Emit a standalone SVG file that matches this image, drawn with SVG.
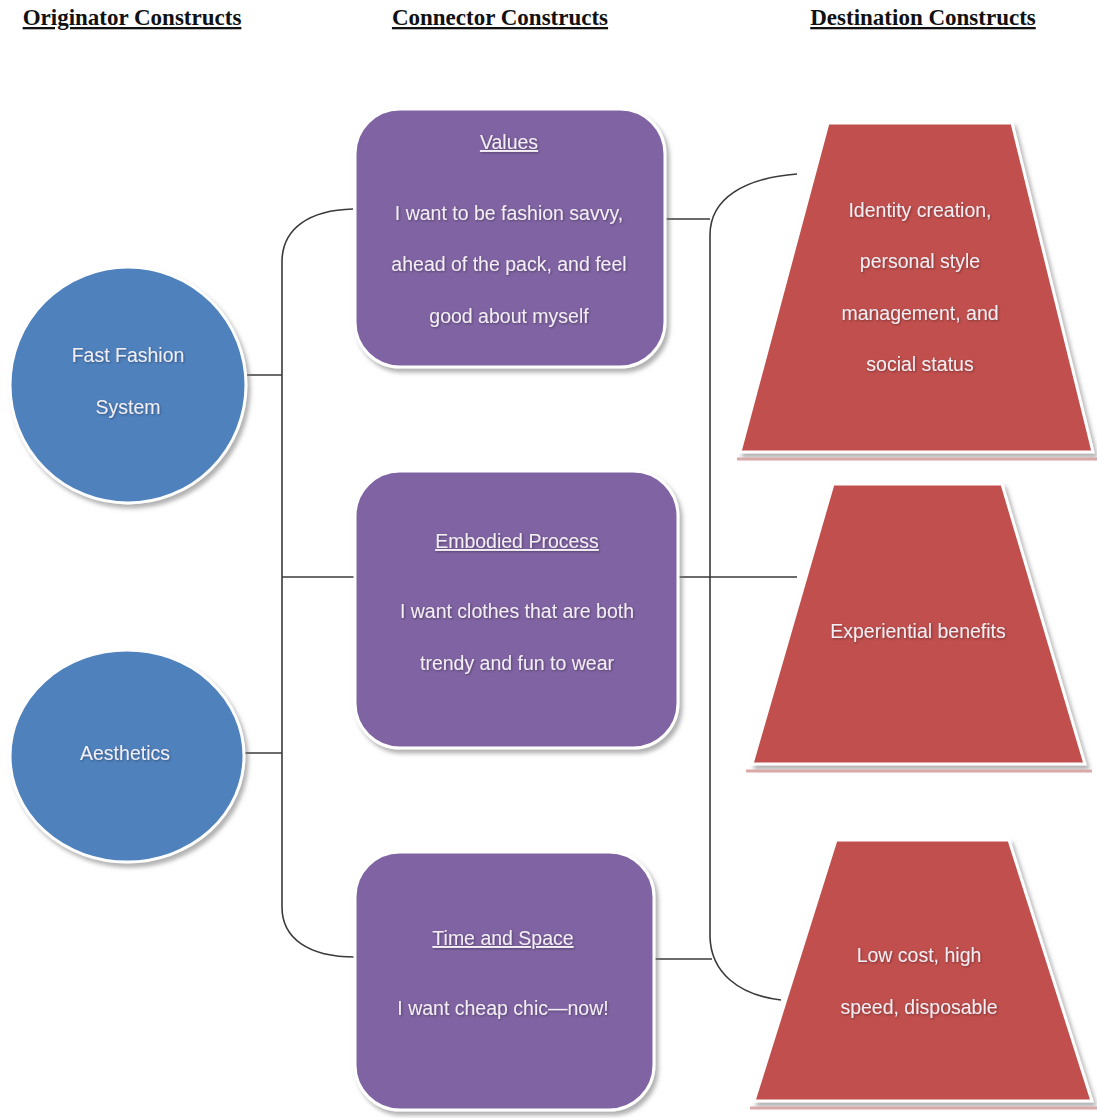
<svg xmlns="http://www.w3.org/2000/svg" width="1097" height="1118" viewBox="0 0 1097 1118">
<defs>
<filter id="sh" x="-10%" y="-10%" width="125%" height="125%">
<feDropShadow dx="3" dy="4" stdDeviation="2" flood-color="#707070" flood-opacity="0.55"/>
</filter>
<filter id="ts" x="-5%" y="-30%" width="110%" height="160%">
<feDropShadow dx="1" dy="1" stdDeviation="0.8" flood-color="#000" flood-opacity="0.35"/>
</filter>
</defs>
<style>
.hdr{font-family:"Liberation Serif","Times New Roman",serif;font-weight:bold;font-size:23px;fill:#111;text-anchor:middle;text-decoration:underline}
.t{font-family:"Liberation Sans",Arial,sans-serif;font-size:19.5px;fill:#f2eef4;text-anchor:middle;filter:url(#ts)}
.u{text-decoration:underline}
.circ{fill:#4f81bd;stroke:#fff;stroke-width:3;filter:url(#sh)}
.box{fill:#8064a2;stroke:#fff;stroke-width:3;filter:url(#sh)}
.trap{fill:#c0504d;stroke:#fff;stroke-width:3;filter:url(#sh)}
.refl{stroke:#d9a9a8;stroke-width:3}
.con{fill:none;stroke:#3a3a3a;stroke-width:1.6}
</style>
<rect width="1097" height="1118" fill="#fff"/>

<g id="headers">
<text class="hdr" x="132" y="25">Originator Constructs</text>
<text class="hdr" x="500" y="25">Connector Constructs</text>
<text class="hdr" x="923" y="25">Destination Constructs</text>
</g>

<g id="connectors">
<path class="con" d="M353,209 C310,210 282,228 282,262 V907 C282,938 308,957 355,957"/>
<path class="con" d="M245,375 H282"/>
<path class="con" d="M282,577 H355"/>
<path class="con" d="M244,753 H282"/>
<path class="con" d="M797,174 C745,178 710,198 710,235 V937 C711,972 738,995 781,1000"/>
<path class="con" d="M655,219 H710"/>
<path class="con" d="M678,577 H797"/>
<path class="con" d="M655,959 H712"/>
</g>

<g id="node-fast-fashion">
<circle class="circ" cx="128" cy="385" r="118"/>
<text class="t" x="128" y="362">Fast Fashion</text>
<text class="t" x="128" y="414">System</text>
</g>

<g id="node-aesthetics">
<ellipse class="circ" cx="127" cy="756" rx="117" ry="106"/>
<text class="t" x="125" y="760">Aesthetics</text>
</g>

<g id="node-values">
<rect class="box" x="355" y="109" width="310" height="258" rx="45"/>
<text class="t u" x="509" y="149">Values</text>
<text class="t" x="509" y="220">I want to be fashion savvy,</text>
<text class="t" x="509" y="271">ahead of the pack, and feel</text>
<text class="t" x="509" y="323">good about myself</text>
</g>

<g id="node-embodied">
<rect class="box" x="355" y="471" width="323" height="277" rx="45"/>
<text class="t u" x="517" y="548">Embodied Process</text>
<text class="t" x="517" y="618">I want clothes that are both</text>
<text class="t" x="517" y="670">trendy and fun to wear</text>
</g>

<g id="node-time-space">
<rect class="box" x="355" y="852" width="299" height="258" rx="45"/>
<text class="t u" x="503" y="945">Time and Space</text>
<text class="t" x="503" y="1015">I want cheap chic—now!</text>
</g>

<g id="node-identity">
<polygon class="trap" points="828,123 1012,123 1093,452 740,452"/>
<line class="refl" x1="737" y1="459" x2="1097" y2="459"/>
<text class="t" x="920" y="217">Identity creation,</text>
<text class="t" x="920" y="268">personal style</text>
<text class="t" x="920" y="320">management, and</text>
<text class="t" x="920" y="371">social status</text>
</g>

<g id="node-experiential">
<polygon class="trap" points="833,484 1002,484 1085,764 752,764"/>
<line class="refl" x1="746" y1="771" x2="1092" y2="771"/>
<text class="t" x="918" y="638">Experiential benefits</text>
</g>

<g id="node-low-cost">
<polygon class="trap" points="836,840 1009,840 1092,1101 754,1101"/>
<line class="refl" x1="750" y1="1108" x2="1097" y2="1108"/>
<text class="t" x="919" y="962">Low cost, high</text>
<text class="t" x="919" y="1014">speed, disposable</text>
</g>
</svg>
